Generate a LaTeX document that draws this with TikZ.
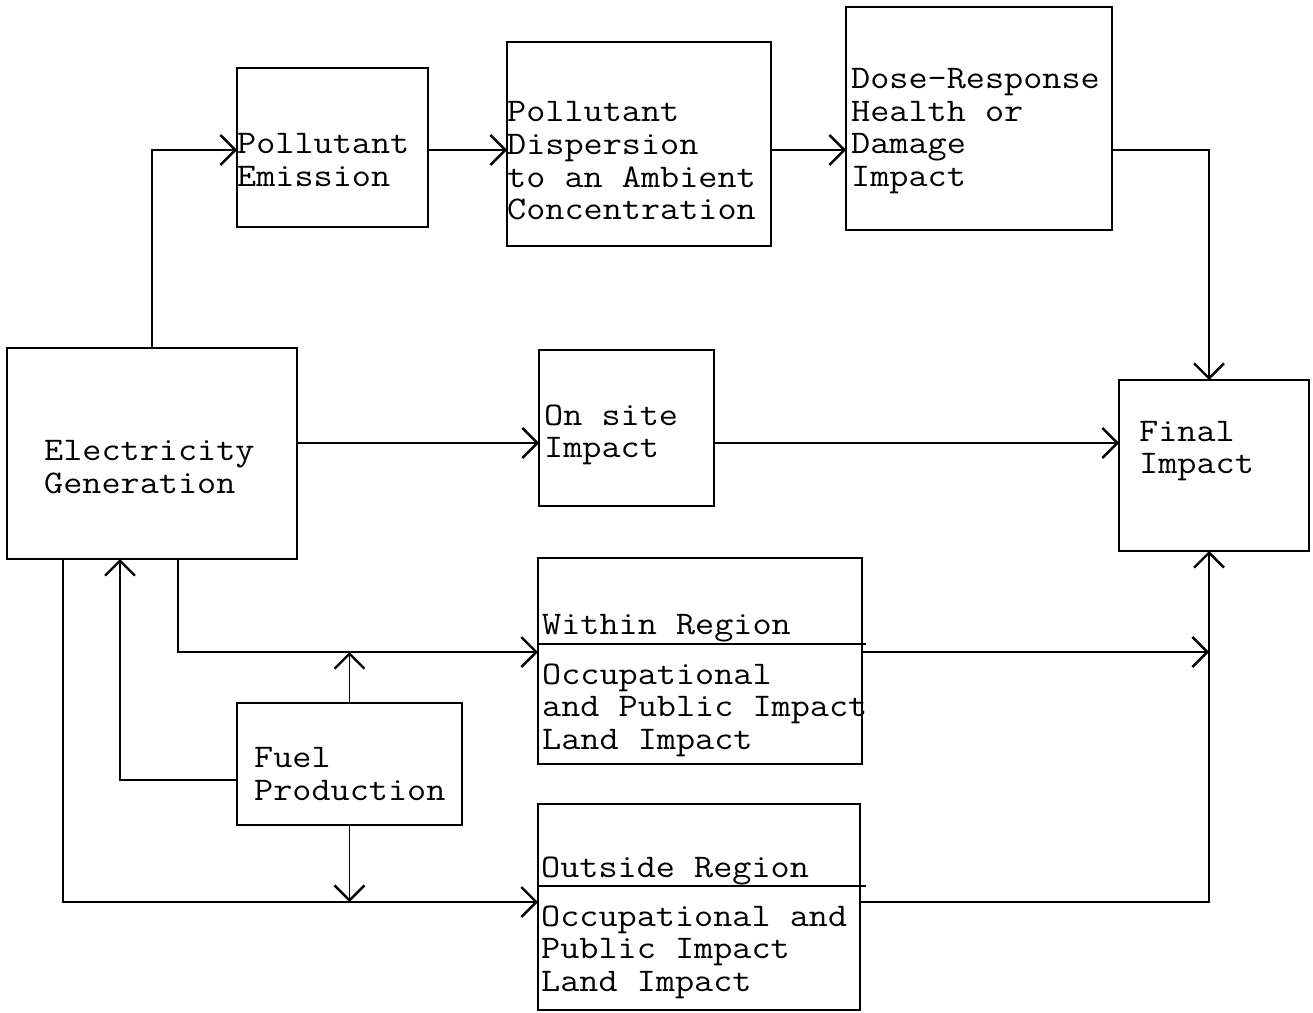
\documentclass[tikz,border=0pt]{standalone}
\usepackage{fontspec}
\newfontfamily\twfont{Latin Modern Mono}[FakeStretch=1.125]
\usetikzlibrary{arrows.meta}
\begin{document}
\begin{tikzpicture}[x=1pt,y=-1pt,
  box/.style={draw,line width=1.5pt,inner sep=0pt,outer sep=0pt,anchor=north west},
  lbl/.style={anchor=west,inner sep=0pt,align=left,font=\twfont\fontsize{33}{32.6}\selectfont},
  conn/.style={line width=1.5pt},
  arr/.style={conn,-{Straight Barb[length=15pt,width=30pt,line width=2.4pt]}}]
\useasboundingbox (0,0) rectangle (1313,1012);
% boxes
\node[box,minimum width=191pt,minimum height=159pt] (pe) at (237,68) {};
\node[box,minimum width=264pt,minimum height=204pt] (pd) at (507,42) {};
\node[box,minimum width=266pt,minimum height=223pt] (dr) at (846,7) {};
\node[box,minimum width=290pt,minimum height=211pt] (eg) at (7,348) {};
\node[box,minimum width=175pt,minimum height=156pt] (os) at (539,350) {};
\node[box,minimum width=190pt,minimum height=171pt] (fi) at (1119,380) {};
\node[box,minimum width=324pt,minimum height=206pt] (wi) at (538,558) {};
\node[box,minimum width=322pt,minimum height=206pt] (ou) at (538,804) {};
\node[box,minimum width=225pt,minimum height=122pt] (fu) at (237,703) {};
% texts
\node[lbl] (peT) at (237,160) {Pollutant\\Emission};
\node[lbl] (pdT) at (507,161) {Pollutant\\Dispersion\\to an Ambient\\Concentration};
\node[lbl] (drT) at (851,131) {Dose-Response\\Health or\\Damage\\Impact};
\node[lbl] (egT) at (44,467) {Electricity\\Generation};
\node[lbl] (osT) at (544,435) {On site\\Impact};
\node[lbl] (fiT) at (1139,451) {Final\\Impact};
\node[lbl] (wiH) at (542,628) {Within Region};
\node[lbl] (wiT) at (542,710) {Occupational\\and Public Impact\\Land Impact};
\node[lbl] (ouH) at (541,871) {Outside Region};
\node[lbl] (ouT) at (541,952) {Occupational and\\Public Impact\\Land Impact};
\node[lbl] (fuT) at (254,774) {Fuel\\Production};
% helper coordinates
\coordinate (r1) at (0,150);
\coordinate (r2) at (0,443);
\coordinate (r3) at (0,652);
\coordinate (r4) at (0,902);
\coordinate (r5) at (0,780);
\coordinate (dw) at (0,644);
\coordinate (do) at (0,886);
\coordinate (vx) at (1209,0);
\coordinate (c178) at (178,0);
\coordinate (c120) at (120,0);
\coordinate (c63) at (63,0);
\coordinate (c866) at (866,0);
% dividers
\draw[conn] (wi.west |- dw) -- (c866 |- dw);
\draw[conn] (ou.west |- do) -- (c866 |- do);
% connectors
\draw[arr] (eg.north) |- (pe.west |- r1);
\draw[arr] (pe.east |- r1) -- (pd.west |- r1);
\draw[arr] (pd.east |- r1) -- (dr.west |- r1);
\draw[arr] (dr.east |- r1) -| (vx |- fi.north);
\draw[arr] (eg.east |- r2) -- (os.west |- r2);
\draw[arr] (os.east |- r2) -- (fi.west |- r2);
\draw[arr] (eg.south -| c178) |- (wi.west |- r3);
\draw[arr] (wi.east |- r3) -- (vx |- r3);
\draw[arr] (ou.east |- r4) -| (vx |- fi.south);
\draw[arr] (fu.north) -- (fu.north |- r3);
\draw[arr] (fu.south) -- (fu.south |- r4);
\draw[arr] (fu.west |- r5) -| (eg.south -| c120);
\draw[arr] (eg.south -| c63) |- (ou.west |- r4);
\end{tikzpicture}
\end{document}
